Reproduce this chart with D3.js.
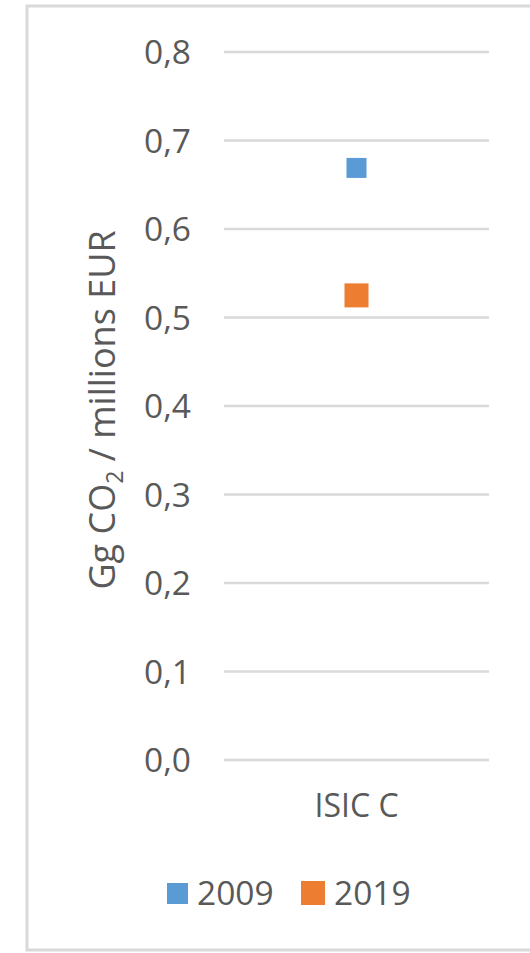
<!DOCTYPE html>
<html><head><meta charset="utf-8">
<script src="https://cdn.jsdelivr.net/npm/d3@7"></script>
<style>html,body{margin:0;padding:0;background:#fff;overflow:hidden}</style>
</head><body>
<svg id="c" width="530" height="953"></svg>
<script>
const categories = ["ISIC C"];
const seriesNames = ["2009", "2019"];
const values2009 = [0.669];
const values2019 = [0.525];
const yTicks = [0, 0.1, 0.2, 0.3, 0.4, 0.5, 0.6, 0.7, 0.8];
const colors = ["#5B9BD5", "#ED7D31"];
const markerSizes = [20, 24];

const svg = d3.select("#c");
const textColor = "#595959";
const font = "'Open Sans', sans-serif";

// outer frame
svg.append("rect").attr("x", 27).attr("y", 6).attr("width", 540).attr("height", 944)
  .attr("fill", "#fff").attr("stroke", "#d9d9d9").attr("stroke-width", 3);

const y = d3.scaleLinear().domain([0, 0.8]).range([760, 52]);
const x = d3.scaleBand().domain(categories).range([224, 489]);

// gridlines
svg.append("g").selectAll("line").data(yTicks).join("line")
  .attr("x1", 224).attr("x2", 489)
  .attr("y1", d => y(d)).attr("y2", d => y(d))
  .attr("stroke", "#d9d9d9").attr("stroke-width", 2.5);

// y axis labels
const yAxis = d3.axisLeft(y).tickValues(yTicks).tickSize(0).tickPadding(0)
  .tickFormat(d => d3.format(".1f")(d).replace(".", ","));
const gy = svg.append("g").attr("transform", "translate(191,0)").call(yAxis);
gy.select(".domain").remove();
gy.selectAll("text").attr("font-family", font).attr("font-size", 33.5)
  .attr("fill", textColor).attr("dy", "0.35em");

// x axis label
const xAxis = d3.axisBottom(x).tickSize(0).tickPadding(0);
const gx = svg.append("g").attr("transform", "translate(0,794)").call(xAxis);
gx.select(".domain").remove();
gx.selectAll("text").attr("font-family", font).attr("font-size", 32)
  .attr("fill", textColor).attr("dy", "0.71em");

// markers
const series = [values2009, values2019];
series.forEach((vals, i) => {
  svg.append("g").selectAll("rect").data(vals).join("rect")
    .attr("x", (d, j) => x(categories[j]) + x.bandwidth() / 2 - markerSizes[i] / 2)
    .attr("y", d => y(d) - markerSizes[i] / 2)
    .attr("width", markerSizes[i]).attr("height", markerSizes[i])
    .attr("fill", colors[i]);
});

// y axis title
const title = svg.append("text")
  .attr("transform", "translate(115,410) rotate(-90)")
  .attr("text-anchor", "middle")
  .attr("font-family", font).attr("font-size", 36).attr("fill", textColor);
title.append("tspan").text("Gg CO");
title.append("tspan").attr("font-size", 23).attr("dy", 8).text("2");
title.append("tspan").attr("dy", -8).text(" / millions EUR");

// legend
const legX = [167, 301];
const leg = svg.append("g");
seriesNames.forEach((name, i) => {
  leg.append("rect").attr("x", legX[i]).attr("y", 893 - markerSizes[i] / 2)
    .attr("width", markerSizes[i] === 20 ? 21 : 24).attr("height", markerSizes[i] === 20 ? 21 : 24)
    .attr("fill", colors[i]);
  leg.append("text").attr("x", i === 0 ? 197 : 334).attr("y", 893).attr("dy", "0.35em")
    .attr("font-family", font).attr("font-size", 33.5).attr("fill", textColor).text(name);
});
</script>
</body></html>
